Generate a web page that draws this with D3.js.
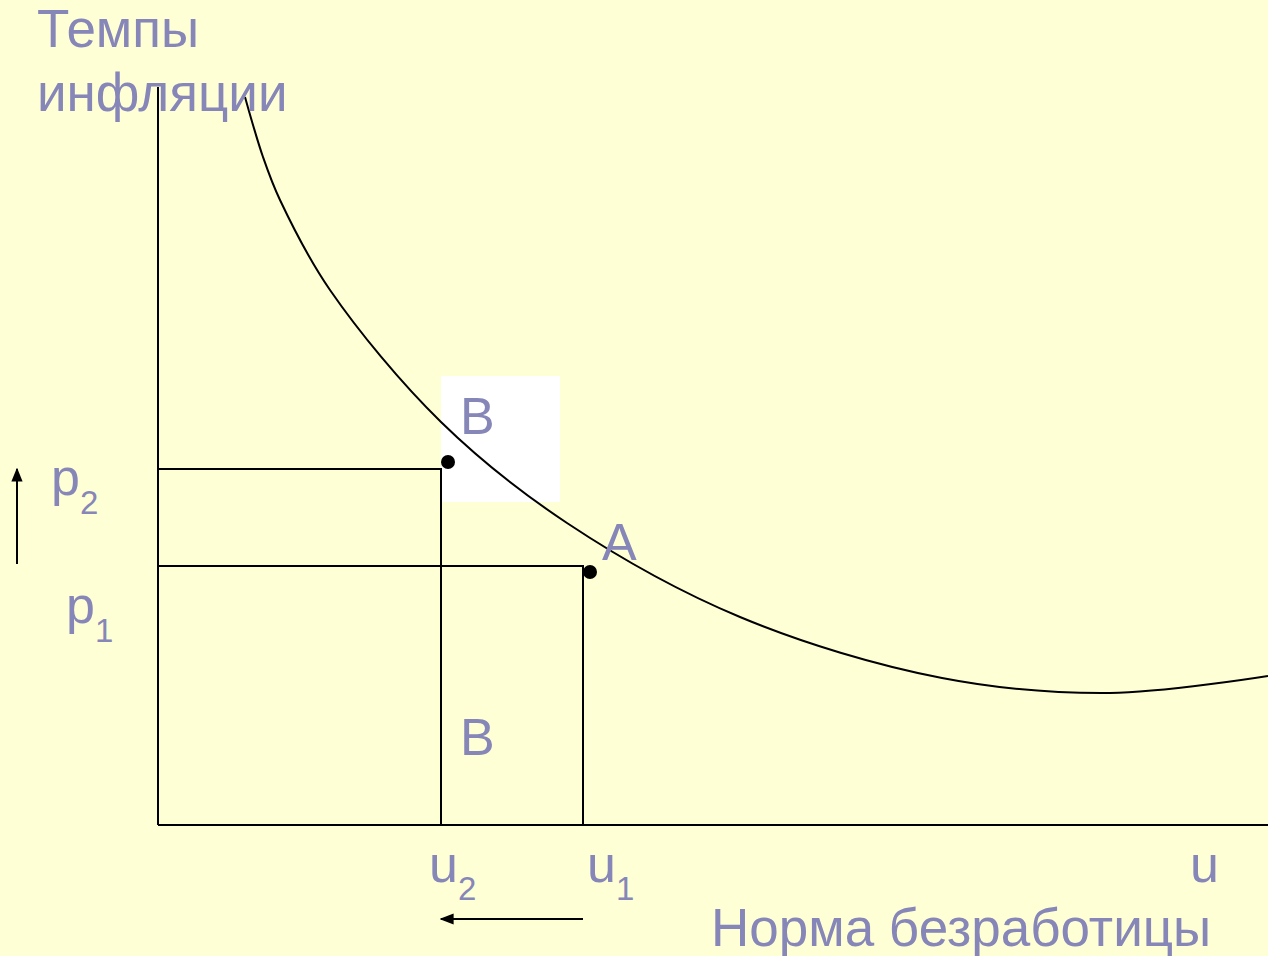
<!DOCTYPE html>
<html>
<head>
<meta charset="utf-8">
<script src="https://cdn.jsdelivr.net/npm/d3@7"></script>
<style>
  html, body { margin: 0; padding: 0; background: #ffffd6; }
  svg { display: block; }
  text { font-family: "Liberation Sans", Arial, sans-serif; fill: #8686b8; }
</style>
</head>
<body>
<svg id="chart" width="1268" height="956"></svg>
<script>
// Phillips curve (u = unemployment, p = inflation)
var curveU = [0.87, 1.05, 1.22, 1.72, 2.83, 4.09, 5.82, 7.84, 9.52, 11.10];
var curveP = [7.28, 6.68, 6.25, 5.35, 4.03, 3.02, 2.08, 1.47, 1.32, 1.49];

var levelNames = ['u2', 'u1'];
var levelU = [2.83, 4.25];      // u2, u1
var levelP = [3.56, 2.59];      // p2, p1

var pointNames = ['B', 'A'];
var pointU = [2.90, 4.32];
var pointP = [3.63, 2.53];

var yTitle = ['Темпы', 'инфляции'];
var xTitle = 'Норма безработицы';

var svg = d3.select('#chart');
var x = d3.scaleLinear().domain([0, 11.1]).range([158, 1268]);
var y = d3.scaleLinear().domain([0, 7.38]).range([825, 87]);

var defs = svg.append('defs');
defs.append('marker').attr('id', 'head')
  .attr('viewBox', '0 0 10 10').attr('refX', 9).attr('refY', 5)
  .attr('markerWidth', 7).attr('markerHeight', 7).attr('orient', 'auto')
  .append('path').attr('d', 'M0,1 L10,5 L0,9 Z').attr('fill', '#000');

// white background patch behind the upper B label
svg.append('rect')
  .attr('x', x(levelU[0])).attr('y', y(pointP[0]) - 86)
  .attr('width', 119).attr('height', 126)
  .attr('fill', '#ffffff');

// axes
svg.append('line')
  .attr('x1', x(0)).attr('y1', y(0)).attr('x2', x(0)).attr('y2', y(7.38))
  .attr('stroke', '#000').attr('stroke-width', 2);
svg.append('line')
  .attr('x1', x(0)).attr('y1', y(0)).attr('x2', x(11.1)).attr('y2', y(0))
  .attr('stroke', '#000').attr('stroke-width', 2);

// guide lines from the axes to each level
var guides = svg.append('g').attr('stroke', '#000').attr('stroke-width', 2).attr('fill', 'none');
levelU.forEach(function(u, i) {
  guides.append('path')
    .attr('d', 'M' + x(0) + ',' + y(levelP[i]) + 'H' + x(u) + 'V' + y(0));
});

// the curve (centripetal catmull-rom copes with the uneven point spacing)
var line = d3.line()
  .x(function(d) { return x(d[0]); })
  .y(function(d) { return y(d[1]); })
  .curve(d3.curveCatmullRom.alpha(0.5));
svg.append('path')
  .attr('d', line(d3.zip(curveU, curveP)))
  .attr('fill', 'none').attr('stroke', '#000').attr('stroke-width', 2);

svg.selectAll('circle.pt')
  .data(pointU)
  .join('circle').attr('class', 'pt')
  .attr('cx', function(d) { return x(d); })
  .attr('cy', function(d, i) { return y(pointP[i]); })
  .attr('r', 7).attr('fill', '#000');

// arrows: p1 -> p2 on the left, u1 -> u2 under the axis
svg.append('line')
  .attr('x1', x(-1.41)).attr('y1', y(levelP[1]) - 2)
  .attr('x2', x(-1.41)).attr('y2', y(levelP[0]))
  .attr('stroke', '#000').attr('stroke-width', 2).attr('marker-end', 'url(#head)');
svg.append('line')
  .attr('x1', x(levelU[1])).attr('y1', y(-0.94))
  .attr('x2', x(levelU[0])).attr('y2', y(-0.94))
  .attr('stroke', '#000').attr('stroke-width', 2).attr('marker-end', 'url(#head)');

// titles
svg.selectAll('text.ytitle')
  .data(yTitle)
  .join('text').attr('class', 'ytitle')
  .attr('x', 37).attr('y', function(d, i) { return 47 + i * 64; })
  .attr('font-size', 53).text(function(d) { return d; });
svg.append('text')
  .attr('x', 711).attr('y', 946).attr('font-size', 53).text(xTitle);

// point labels
svg.append('text').attr('x', x(pointU[0]) + 12).attr('y', y(pointP[0]) - 28)
  .attr('font-size', 52).text(pointNames[0]);
svg.append('text').attr('x', x(pointU[1]) + 12).attr('y', y(pointP[1]) - 12)
  .attr('font-size', 52).text(pointNames[1]);
svg.append('text').attr('x', x(pointU[0]) + 12).attr('y', 755)
  .attr('font-size', 52).text(pointNames[0]);

// level labels with subscripts
function subLabel(px, py, main, sub, dy) {
  var t = svg.append('text').attr('x', px).attr('y', py).attr('font-size', 52);
  t.append('tspan').text(main);
  t.append('tspan').attr('font-size', 33).attr('dx', 0).attr('dy', dy).text(sub);
}
subLabel(51, y(levelP[0]) + 26, 'p', '2', 19);
subLabel(66, y(levelP[1]) + 57, 'p', '1', 19);
subLabel(x(levelU[0]) - 12, 882, 'u', '2', 18);
subLabel(x(levelU[1]) + 4, 882, 'u', '1', 18);
svg.append('text').attr('x', 1190).attr('y', 882).attr('font-size', 52).text('u');
</script>
</body>
</html>
